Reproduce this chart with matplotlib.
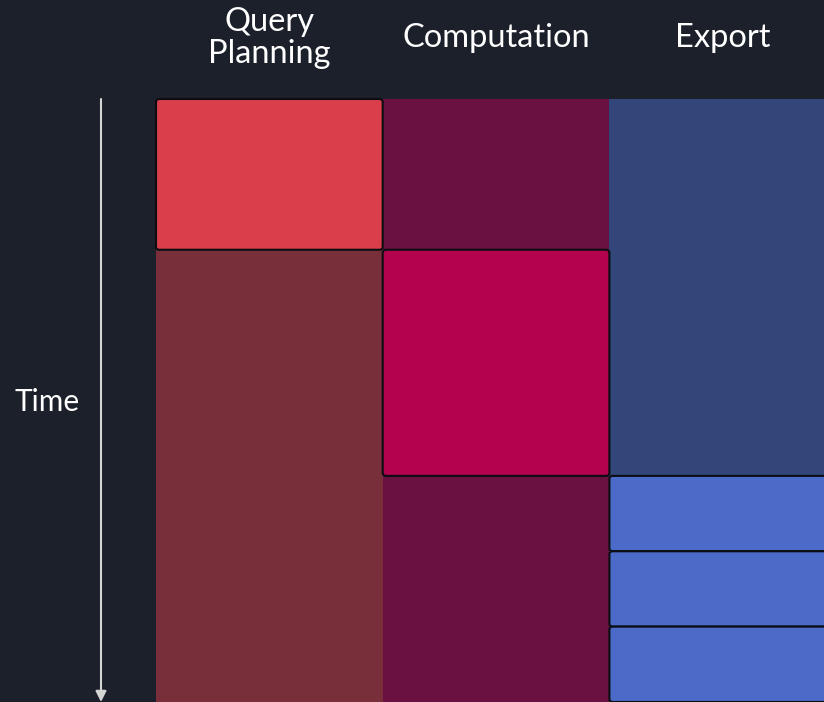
import matplotlib
matplotlib.use("Agg")
import matplotlib.pyplot as plt
from matplotlib.patches import FancyBboxPatch, Rectangle

plt.rcParams['font.family'] = ['Lato', 'DejaVu Sans']

# ---- data ----
stages = ["Query\nPlanning", "Computation", "Export"]
task_stage = [0, 1, 2, 2, 2]
task_start = [0, 2, 5, 6, 7]
task_end = [2, 5, 6, 7, 8]
total_time = 8
active_colors = ["#d93f4a", "#b5024f", "#4c6ac8"]
idle_colors = ["#782f3a", "#6b1141", "#33467a"]
bg = "#1b202b"

W, H = 824, 702
fig = plt.figure(figsize=(W / 100, H / 100), dpi=100, facecolor=bg)

col_w = 226.7
left_px, top_px, bottom_px = 156, 99, 702
ax_w_px = col_w * len(stages)
ax = fig.add_axes([left_px / W, (H - bottom_px) / H, ax_w_px / W, (bottom_px - top_px) / H])
ax.set_facecolor(bg)
ax.set_xlim(0, len(stages))
ax.set_ylim(total_time, 0)
ax.axis("off")

row_px = (bottom_px - top_px) / total_time
# idle columns
for i in range(len(stages)):
    ax.add_patch(Rectangle((i, 0), 1, total_time, facecolor=idle_colors[i], edgecolor="none", zorder=1))

# active blocks
r_x = 3 / col_w
aspect = col_w / row_px
for s, t0, t1 in zip(task_stage, task_start, task_end):
    ax.add_patch(FancyBboxPatch((s, t0), 1, t1 - t0,
                                boxstyle=f"round,pad=0,rounding_size={r_x}",
                                mutation_aspect=aspect,
                                facecolor=active_colors[s], edgecolor="#0b0d12",
                                linewidth=1.5, zorder=2, clip_on=False))

# headers
header_y = (38 - top_px) / row_px
for i, name in enumerate(stages):
    ax.text(i + 0.5, header_y, name, ha="center", va="center", color="white",
            fontsize=23.5, linespacing=1.05, clip_on=False)

# time arrow
arrow_x = (101 - left_px) / col_w
ax.annotate("", xy=(arrow_x, total_time), xytext=(arrow_x, 0),
            arrowprops=dict(arrowstyle="-|>", color="#d5d5d5", lw=1.5, mutation_scale=16,
                            shrinkA=0, shrinkB=0),
            annotation_clip=False)
ax.text((47 - left_px) / col_w, (402 - top_px) / row_px, "Time", ha="center", va="center",
        color="white", fontsize=21.5, clip_on=False)

fig.savefig("out.png", dpi=100, facecolor=bg)
